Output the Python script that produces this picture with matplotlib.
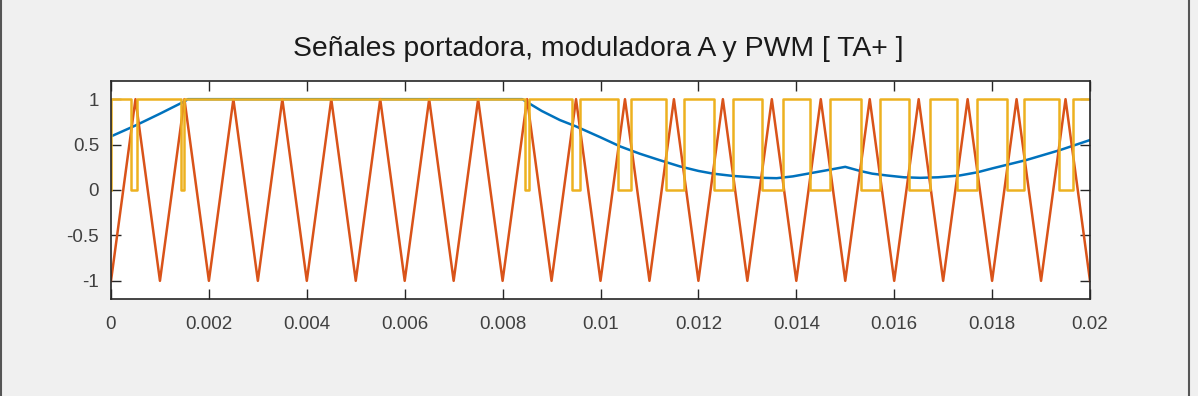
import matplotlib
matplotlib.use("Agg")
import matplotlib.pyplot as plt
from matplotlib.lines import Line2D

# ---------------- data ----------------
title_text = "Señales portadora, moduladora A y PWM [ TA+ ]"

# carrier (triangle) vertices
carrier_t = [0.0, 0.0005, 0.001, 0.0015, 0.002, 0.0025, 0.003, 0.0035, 0.004, 0.0045,
             0.005, 0.0055, 0.006, 0.0065, 0.007, 0.0075, 0.008, 0.0085, 0.009, 0.0095,
             0.010, 0.0105, 0.011, 0.0115, 0.012, 0.0125, 0.013, 0.0135, 0.014, 0.0145,
             0.015, 0.0155, 0.016, 0.0165, 0.017, 0.0175, 0.018, 0.0185, 0.019, 0.0195,
             0.020]
carrier_v = [-1, 1, -1, 1, -1, 1, -1, 1, -1, 1,
             -1, 1, -1, 1, -1, 1, -1, 1, -1, 1,
             -1, 1, -1, 1, -1, 1, -1, 1, -1, 1,
             -1, 1, -1, 1, -1, 1, -1, 1, -1, 1,
             -1]

# modulating signal (phase A)
mod_t = [0.0, 0.0005, 0.001, 0.0015, 0.00157, 0.0084, 0.0088, 0.00917, 0.0095,
         0.0100, 0.0104, 0.0108, 0.0112, 0.01162, 0.0120, 0.0123, 0.0127, 0.01326,
         0.0136, 0.01393, 0.01434, 0.01470, 0.0150, 0.0153, 0.01555, 0.01585,
         0.0162, 0.01653, 0.0169, 0.01734, 0.0177, 0.01802, 0.0187, 0.01939, 0.0200]
mod_v = [0.59, 0.71, 0.84, 0.975, 1.0, 1.0, 0.87, 0.77, 0.70,
         0.58, 0.48, 0.40, 0.33, 0.26, 0.21, 0.18, 0.155, 0.134,
         0.13, 0.15, 0.19, 0.225, 0.255, 0.21, 0.18, 0.16,
         0.14, 0.134, 0.14, 0.16, 0.195, 0.24, 0.33, 0.44, 0.55]

# PWM low intervals (start, end)
pwm_low_start = [0.00040, 0.00144, 0.00846, 0.00941, 0.01036, 0.01134, 0.01232,
                 0.01330, 0.01429, 0.01532, 0.01631, 0.01729, 0.01831, 0.01937]
pwm_low_end = [0.00054, 0.00150, 0.00853, 0.00958, 0.01062, 0.01171, 0.01270,
               0.01372, 0.01469, 0.01570, 0.01673, 0.01769, 0.01866, 0.01966]
pwm_t_start, pwm_t_end = 0.0, 0.02

xticks = [0, 0.002, 0.004, 0.006, 0.008, 0.01, 0.012, 0.014, 0.016, 0.018, 0.02]
xtick_labels = ["0", "0.002", "0.004", "0.006", "0.008", "0.01", "0.012", "0.014",
                "0.016", "0.018", "0.02"]
yticks = [-1, -0.5, 0, 0.5, 1]
ytick_labels = ["-1", "-0.5", "0", "0.5", "1"]

# build the PWM step trace
pwm_t = [pwm_t_start, pwm_t_start]
pwm_v = [0, 1]
for a, b in zip(pwm_low_start, pwm_low_end):
    pwm_t += [a, a, b, b]
    pwm_v += [1, 0, 0, 1]
pwm_t.append(pwm_t_end)
pwm_v.append(1)

# ---------------- figure ----------------
plt.rcParams['font.family'] = ['Liberation Sans', 'DejaVu Sans']
W, H = 1198, 396
fig = plt.figure(figsize=(W / 100, H / 100), dpi=100, facecolor='#F0F0F0')
ax = fig.add_axes([111 / W, 1 - 299 / H, (1090 - 111) / W, (299 - 81) / H])
ax.set_facecolor('white')

c_blue, c_red, c_yel = '#0072BD', '#D95319', '#EDB120'
ax.plot(mod_t, mod_v, color=c_blue, lw=1.8)
ax.plot(carrier_t, carrier_v, color=c_red, lw=1.8)
ax.plot(pwm_t, pwm_v, color=c_yel, lw=1.8)

ax.set_xlim(0, 0.02)
ax.set_ylim(-1.2, 1.2)
ax.set_xticks(xticks)
ax.set_xticklabels(xtick_labels)
ax.set_yticks(yticks)
ax.set_yticklabels(ytick_labels)
ax.tick_params(axis='both', direction='in', length=7, width=1.0, color='#262626',
               labelcolor='#404040', labelsize=13.5, top=True, right=True)
ax.tick_params(axis='x', pad=12)
ax.tick_params(axis='y', pad=8.5)
for s in ax.spines.values():
    s.set_color('#262626')
    s.set_linewidth(1.2)

fig.text(598 / W, 1 - 56 / H, title_text, ha='center', va='baseline',
         fontsize=20.4, color='#1a1a1a')

# outer frame lines of the screenshot
fig.add_artist(Line2D([1 / W, 1 / W], [0, 1], transform=fig.transFigure,
                      color='#555555', lw=1.5))
fig.add_artist(Line2D([1188.5 / W, 1188.5 / W], [0, 1], transform=fig.transFigure,
                      color='#555555', lw=1.5))

fig.savefig('out.png', dpi=100, facecolor=fig.get_facecolor())
